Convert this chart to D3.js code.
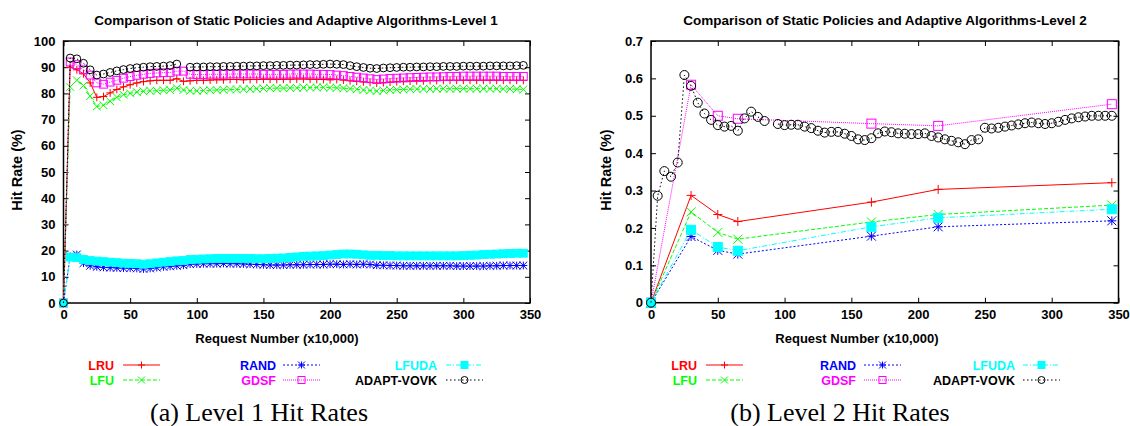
<!DOCTYPE html>
<html>
<head>
<meta charset="utf-8">
<script src="https://cdn.jsdelivr.net/npm/d3@7"></script>
<style>
  body { margin: 0; background: #fff; }
  svg { display: block; }
  text { font-family: "Liberation Sans", Arial, sans-serif; font-weight: bold; }
  .caption { font-family: "Liberation Serif", "Times New Roman", serif; font-weight: normal; }
  .axis text { font-size: 13px; fill: #000; }
  .axis line { stroke: #000; stroke-width: 1; }
  .axis .domain { display: none; }
</style>
</head>
<body>
<svg id="fig" width="1130" height="426"></svg>
<script>
// ---- data: level 1 (every 5 units, x10,000 requests) ----
var l1X = [
  0, 5, 10, 15, 20, 25, 30, 35, 40, 45,
  50, 55, 60, 65, 70, 75, 80, 85, 90, 95,
  100, 105, 110, 115, 120, 125, 130, 135, 140, 145,
  150, 155, 160, 165, 170, 175, 180, 185, 190, 195,
  200, 205, 210, 215, 220, 225, 230, 235, 240, 245,
  250, 255, 260, 265, 270, 275, 280, 285, 290, 295,
  300, 305, 310, 315, 320, 325, 330, 335, 340, 345];
var l1LRU = [
  0, 90, 89, 87.5, 84, 78.5, 78.8, 80.2, 81.5, 82.5,
  83.3, 84, 84.5, 84.8, 85, 85, 85, 85.6, 84.6, 84.8,
  85, 85, 85.1, 85.2, 85.2, 85.3, 85.3, 85.2, 85.3, 85.3,
  85.4, 85.4, 85.3, 85.4, 85.4, 85.5, 85.5, 85.4, 85.3, 85.3,
  85.2, 85.3, 85.1, 84.8, 84.6, 84.4, 84.2, 83.9, 84.1, 84.3,
  84.5, 84.6, 84.7, 84.8, 84.8, 84.9, 84.9, 85, 85, 85,
  85, 85, 85, 85, 85, 85, 85, 85, 85, 85];
var l1LFU = [
  0, 82.5, 85, 83, 79, 75, 75.5, 77, 78.5, 79.5,
  80, 80.5, 80.8, 81, 81, 81.2, 81.3, 82, 81.3, 81,
  81, 81.1, 81.2, 81.3, 81.4, 81.5, 81.5, 81.6, 81.7, 81.8,
  81.9, 82, 82, 82, 82.1, 82.1, 82.2, 82.2, 82.3, 82.3,
  82.2, 82.1, 82, 81.8, 81.6, 81.3, 81.1, 80.9, 81.1, 81.3,
  81.4, 81.5, 81.6, 81.6, 81.7, 81.7, 81.8, 81.8, 81.8, 81.8,
  81.8, 81.8, 81.8, 81.8, 81.8, 81.8, 81.7, 81.7, 81.6, 81.5];
var l1RAND = [
  0, 17.8, 18.5, 15.2, 14.2, 13.8, 13.6, 13.5, 13.4, 13.3,
  13.3, 13.2, 13, 13.2, 13.5, 13.8, 14, 14.2, 14.4, 14.8,
  14.9, 15, 15, 15, 15.1, 15, 15, 14.9, 14.8, 14.7,
  14.6, 14.5, 14.5, 14.5, 14.6, 14.6, 14.6, 14.7, 14.7, 14.7,
  14.8, 14.8, 14.7, 14.8, 14.7, 14.8, 14.7, 14.4, 14.4, 14.3,
  14.3, 14.2, 14.2, 14.2, 14.2, 14.2, 14.2, 14.2, 14.2, 14.1,
  14.1, 14.1, 14.1, 14.1, 14.2, 14.2, 14.3, 14.3, 14.3, 14.3];
var l1GDSF = [
  0, 92, 91, 89, 87, 84, 83.5, 84.3, 85, 85.8,
  86.4, 86.9, 87.3, 87.6, 87.8, 87.9, 88, 88.5, 88.5, 87.3,
  87.2, 87.2, 87.3, 87.3, 87.3, 87.4, 87.4, 87.4, 87.4, 87.4,
  87.3, 87.3, 87.3, 87.3, 87.4, 87.4, 87.4, 87.4, 87.3, 87.3,
  87.2, 87, 86.8, 86.5, 86.2, 85.9, 85.6, 85.3, 85.5, 85.7,
  85.8, 85.9, 86, 86.1, 86.2, 86.3, 86.3, 86.4, 86.5, 86.5,
  86.6, 86.6, 86.6, 86.6, 86.6, 86.6, 86.5, 86.5, 86.5, 86.5];
var l1LFUDA = [
  0, 17.5, 17.3, 16.6, 16.2, 16, 15.8, 15.6, 15.4, 15.2,
  15.1, 15, 14.8, 15, 15.3, 15.6, 15.8, 16.1, 16.2, 16.6,
  16.7, 16.8, 16.9, 17, 17, 17, 17, 17, 17, 16.9,
  16.9, 17, 17.1, 17.2, 17.4, 17.6, 17.8, 17.9, 18, 18.1,
  18.3, 18.5, 18.7, 18.7, 18.6, 18.4, 18.2, 18.2, 18.1, 18.1,
  18, 18, 18, 18, 18, 18, 18, 18, 18, 18,
  18.1, 18.2, 18.3, 18.5, 18.6, 18.7, 18.8, 18.9, 19, 19];
var l1VOVK = [
  0, 93.5, 93.2, 91.5, 89, 87, 87.4, 88, 88.6, 89.1,
  89.5, 89.8, 90, 90.2, 90.3, 90.4, 90.6, 91.2, null, 90,
  90.1, 90.1, 90.2, 90.2, 90.3, 90.3, 90.4, 90.4, 90.5, 90.5,
  90.6, 90.6, 90.7, 90.7, 90.8, 90.8, 90.9, 91, 91, 91.1,
  91.2, 91.1, 91, 90.6, 90.2, 89.9, 89.6, 89.5, 89.7, 89.8,
  89.9, 90, 90, 90.1, 90.1, 90.2, 90.2, 90.3, 90.3, 90.3,
  90.4, 90.4, 90.4, 90.4, 90.5, 90.5, 90.5, 90.5, 90.6, 90.7];

// ---- data: level 2 ----
var l2StaticX = [0, 30, 50, 65, 165, 215, 345];
var l2LRU = [0, 0.287, 0.236, 0.217, 0.269, 0.303, 0.321];
var l2LFU = [0, 0.243, 0.188, 0.170, 0.216, 0.236, 0.261];
var l2RAND = [0, 0.177, 0.140, 0.130, 0.178, 0.203, 0.219];
var l2GDSF = [0, 0.583, 0.500, 0.492, 0.479, 0.473, 0.531];
var l2LFUDA = [0, 0.195, 0.149, 0.139, 0.203, 0.227, 0.250];
var l2VovkX = l1X;
var l2VOVK = [
  0, 0.286, 0.352, 0.337, 0.375, 0.609, 0.580, 0.535, 0.506, 0.489,
  0.475, 0.471, 0.473, 0.460, 0.493, 0.511, 0.497, 0.486, null, 0.478,
  0.475, 0.476, 0.476, 0.471, 0.467, 0.460, 0.455, 0.457, 0.457, 0.452,
  0.446, 0.437, 0.435, 0.440, 0.453, 0.458, 0.456, 0.453, 0.452, 0.451,
  0.451, 0.453, 0.446, 0.442, 0.437, 0.433, 0.429, 0.424, 0.435, 0.437,
  0.468, 0.466, 0.468, 0.471, 0.474, 0.477, 0.480, 0.482, 0.480, 0.478,
  0.480, 0.484, 0.489, 0.493, 0.496, 0.498, 0.500, 0.500, 0.500, 0.500];

var l1YTicks = [0, 10, 20, 30, 40, 50, 60, 70, 80, 90, 100];
var l2YTicks = [0, 0.1, 0.2, 0.3, 0.4, 0.5, 0.6, 0.7];
var xTicks = [0, 50, 100, 150, 200, 250, 300, 350];

// series styles, in gnuplot draw order
var styles = {
  "LRU":        {color: "#ff0000", dash: null,        marker: "plus"},
  "LFU":        {color: "#00ff00", dash: "4,2",       marker: "cross"},
  "RAND":       {color: "#0000ff", dash: "2,2",       marker: "star"},
  "GDSF":       {color: "#ff00ff", dash: "1,1",       marker: "box"},
  "LFUDA":      {color: "#00ffff", dash: "5,2,1,2",   marker: "fbox"},
  "ADAPT-VOVK": {color: "#000000", dash: "1.5,2.5",   marker: "circle"}
};
var legendCols = [["LRU", "LFU"], ["RAND", "GDSF"], ["LFUDA", "ADAPT-VOVK"]];

function zip(xs, ys) {
  return xs.map(function(x, i) { return {x: x, y: ys[i]}; });
}

var charts = [
  {
    left: 63.5, right: 530, top: 41, bottom: 303,
    yMax: 100, yTicks: l1YTicks, yFormat: d3.format("d"),
    title: "Comparison of Static Policies and Adaptive Algorithms-Level 1",
    titleX: 296, xLabelX: 277, yLabelX: 17,
    caption: "(a) Level 1 Hit Rates", captionX: 259,
    legendTextX: [114, 276, 437], legendLineX: [123, 283, 446],
    markerSize: 3.9,
    series: [
      {name: "LRU", data: zip(l1X, l1LRU)},
      {name: "LFU", data: zip(l1X, l1LFU)},
      {name: "RAND", data: zip(l1X, l1RAND)},
      {name: "GDSF", data: zip(l1X, l1GDSF)},
      {name: "LFUDA", data: zip(l1X, l1LFUDA)},
      {name: "ADAPT-VOVK", data: zip(l1X, l1VOVK)}
    ]
  },
  {
    left: 651, right: 1118.5, top: 41, bottom: 302.7,
    yMax: 0.7, yTicks: l2YTicks, yFormat: function(d) { return d === 0 ? "0" : d3.format(".1f")(d); },
    title: "Comparison of Static Policies and Adaptive Algorithms-Level 2",
    titleX: 885, xLabelX: 857, yLabelX: 606,
    caption: "(b) Level 2 Hit Rates", captionX: 840,
    legendTextX: [697, 856, 1015], legendLineX: [706, 864, 1023],
    markerSize: 4.5,
    series: [
      {name: "LRU", data: zip(l2StaticX, l2LRU)},
      {name: "LFU", data: zip(l2StaticX, l2LFU)},
      {name: "RAND", data: zip(l2StaticX, l2RAND)},
      {name: "GDSF", data: zip(l2StaticX, l2GDSF)},
      {name: "LFUDA", data: zip(l2StaticX, l2LFUDA)},
      {name: "ADAPT-VOVK", data: zip(l2VovkX, l2VOVK)}
    ]
  }
];

var svg = d3.select("#fig");

function drawMarker(g, type, s, color) {
  if (type == "plus") {
    g.append("path").attr("d", `M${-s},0L${s},0M0,${-s}L0,${s}`)
        .attr("stroke", color).attr("fill", "none");
  } else if (type == "cross") {
    g.append("path").attr("d", `M${-s},${-s}L${s},${s}M${-s},${s}L${s},${-s}`)
        .attr("stroke", color).attr("fill", "none");
  } else if (type == "star") {
    g.append("path").attr("d", `M${-s},0L${s},0M0,${-s}L0,${s}` +
        `M${-s},${-s}L${s},${s}M${-s},${s}L${s},${-s}`)
        .attr("stroke", color).attr("fill", "none");
  } else if (type == "box" || type == "fbox") {
    g.append("rect").attr("x", -s).attr("y", -s)
        .attr("width", 2 * s).attr("height", 2 * s)
        .attr("stroke", color)
        .attr("fill", type == "fbox" ? color : "none");
  } else {
    g.append("circle").attr("r", s).attr("stroke", color).attr("fill", "none");
  }
}

function renderChart(c) {
  var w = c.right - c.left;
  var h = c.bottom - c.top;
  var xScale = d3.scaleLinear().domain([0, 350]).range([0, w]);
  var yScale = d3.scaleLinear().domain([0, c.yMax]).range([h, 0]);

  svg.append("text")
      .attr("x", c.titleX)
      .attr("y", 24.5)
      .style("text-anchor", "middle")
      .style("font-size", "13.5px")
      .text(c.title);

  var chart = svg.append("g")
      .attr("transform", `translate(${c.left}, ${c.top})`);

  // axes with inward ticks, mirrored on top/right
  chart.append("g")
      .attr("class", "axis")
      .call(d3.axisLeft(yScale).tickValues(c.yTicks).tickFormat(c.yFormat)
          .tickSize(-5).tickPadding(8));
  chart.append("g")
      .attr("class", "axis")
      .attr("transform", `translate(${w}, 0)`)
      .call(d3.axisRight(yScale).tickValues(c.yTicks).tickFormat("").tickSize(-5));
  chart.append("g")
      .attr("class", "axis")
      .attr("transform", `translate(0, ${h})`)
      .call(d3.axisBottom(xScale).tickValues(xTicks).tickFormat(d3.format("d"))
          .tickSize(-5).tickPadding(7));
  chart.append("g")
      .attr("class", "axis")
      .call(d3.axisTop(xScale).tickValues(xTicks).tickFormat("").tickSize(-5));

  chart.append("rect")
      .attr("width", w)
      .attr("height", h)
      .attr("fill", "none")
      .attr("stroke", "#000")
      .attr("stroke-width", 1.5);

  // axis titles
  svg.append("text")
      .attr("x", c.xLabelX)
      .attr("y", 342.5)
      .style("text-anchor", "middle")
      .style("font-size", "13px")
      .text("Request Number (x10,000)");
  svg.append("text")
      .attr("transform", `translate(${c.yLabelX + 5}, 170) rotate(-90)`)
      .style("text-anchor", "middle")
      .style("font-size", "14.5px")
      .text("Hit Rate (%)");

  var line = d3.line()
      .defined(function(d) { return d.y !== null; })
      .x(function(d) { return xScale(d.x); })
      .y(function(d) { return yScale(d.y); });

  c.series.forEach(function(s) {
    var st = styles[s.name];
    var sg = chart.append("g").attr("class", "series");
    sg.append("path")
        .datum(s.data)
        .attr("d", line)
        .attr("fill", "none")
        .attr("stroke", st.color)
        .attr("stroke-width", 1)
        .attr("stroke-dasharray", st.dash);
    sg.selectAll("g.pt")
        .data(s.data.filter(function(d) { return d.y !== null; }))
        .enter().append("g")
            .attr("class", "pt")
            .attr("transform", function(d) {
                return `translate(${xScale(d.x)}, ${yScale(d.y)})`;
            })
            .each(function() {
                drawMarker(d3.select(this), st.marker, c.markerSize, st.color);
            });
  });

  // legend, three columns of two
  legendCols.forEach(function(col, ci) {
    col.forEach(function(name, ri) {
      var st = styles[name];
      var ly = 365 + ri * 15;
      svg.append("text")
          .attr("x", c.legendTextX[ci])
          .attr("y", ly + 4.5)
          .style("text-anchor", "end")
          .style("font-size", "12.5px")
          .attr("fill", st.color)
          .text(name);
      var x0 = c.legendLineX[ci];
      svg.append("line")
          .attr("x1", x0).attr("x2", x0 + 37)
          .attr("y1", ly).attr("y2", ly)
          .attr("stroke", st.color)
          .attr("stroke-dasharray", st.dash);
      var mg = svg.append("g").attr("transform", `translate(${x0 + 18.5}, ${ly})`);
      drawMarker(mg, st.marker, 3.5, st.color);
    });
  });

  svg.append("text")
      .attr("class", "caption")
      .attr("x", c.captionX)
      .attr("y", 421)
      .style("text-anchor", "middle")
      .style("font-size", "26px")
      .text(c.caption);
}

charts.forEach(renderChart);
</script>
</body>
</html>
